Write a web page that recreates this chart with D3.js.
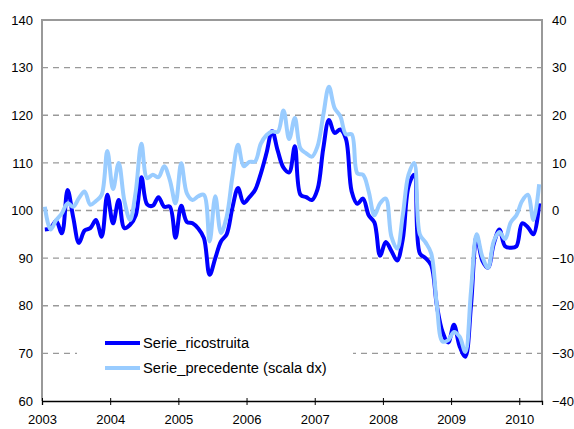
<!DOCTYPE html>
<html lang="it">
  <head>
    <meta charset="UTF-8" />
    <title>Serie ricostruita</title>
    <script src="https://cdn.jsdelivr.net/npm/d3@7"></script>
    <style>
      body { margin: 0; background: #fff; }
      text { font-family: "Liberation Sans", Arial, sans-serif; }
    </style>
  </head>
  <body>
    <script>
      // year labels, one tick every 12 months (Jan 2003 .. Apr 2010)
      let years = ["2003", "2004", "2005", "2006", "2007", "2008", "2009", "2010"];

      // left axis
      let serieRicostruita = [
        96, 96.3, 97.8, 95.2, 104.3, 98.5, 93.2, 95.8, 96.3, 98, 94.5, 103.3,
        97.3, 102.2, 96.3, 97, 99, 107, 101.3, 101, 102.8, 100.8, 100.8, 94.3,
        101, 97.6, 97.3, 96.2, 94.2, 86.5, 90, 93.5, 95, 100.5, 104.7, 101.6,
        102.8, 104.3, 107.7, 112, 116.7, 112.5, 109, 108, 113.5, 103.3, 102.8, 102.2,
        104.5, 113, 119, 116.3, 117, 115, 104, 101.4, 102.5, 99, 97.5, 90.5,
        93.4, 91.5, 89.5, 94, 105, 107.5, 91, 90, 88.5, 80, 74.5, 72.3,
        76, 71.5, 69.3, 80, 94.5, 89.5, 88, 93, 96, 92.5, 92.2, 92.5,
        97.3, 96.5, 95, 101.5
      ];
      // right axis (scala dx)
      let seriePrecedente = [
        0.8, -4, -2, -0.6, 1.5, 0.8, 2.6, 4, 1.2, 2, 3.3, 12.5,
        4.5, 10, 2, -2, 4, 14, 6.8, 7.5, 7, 9.3, 6.4, 1.5,
        9.9, 3.6, 2.2, 3, 3.3, -6.5, 3, -4.7, -1.3, 7, 13.8, 9.3,
        10.2, 10.3, 14, 15.8, 16.6, 16.5, 21, 15, 19.4, 13, 12, 11.3,
        13.5, 20, 26, 21.5, 19.8, 16, 16, 7.8, 7.5, 4, -1, 1.5,
        2.5, -5.5, -8, -1, 7.5, 10, -5, -6.7, -9, -20, -27.5, -27.2,
        -25.5, -26.5, -29.7, -17, -5, -9.7, -12, -6.5, -4.5, -6, -2.5, -1,
        2, 3.3, -2, 5.5
      ];
      let leftTicks = [60, 70, 80, 90, 100, 110, 120, 130, 140];
      let rightTicks = [-40, -30, -20, -10, 0, 10, 20, 30, 40];
      let legendLabels = ["Serie_ricostruita", "Serie_precedente (scala dx)"];

      let width = 574, height = 429;
      let mLeft = 42, mRight = 542, mTop = 20, mBottom = 401;

      let svg = d3.select("body").append("svg")
        .attr("width", width)
        .attr("height", height);

      let x = d3.scaleLinear().domain([0, serieRicostruita.length]).range([mLeft, mRight]);
      let yL = d3.scaleLinear().domain([60, 140]).range([mBottom, mTop]);
      let yR = d3.scaleLinear().domain([-40, 40]).range([mBottom, mTop]);

      // dashed grid
      svg.append("g")
        .selectAll("line")
        .data(leftTicks.slice(1, -1))
        .enter()
        .append("line")
        .attr("x1", mLeft)
        .attr("x2", mRight)
        .attr("y1", d => yL(d))
        .attr("y2", d => yL(d))
        .attr("stroke", "#999")
        .attr("stroke-width", 1.3)
        .attr("stroke-dasharray", "6,5");

      // frame (left, top, right)
      svg.append("path")
        .attr("d", `M${mLeft},${mBottom}V${mTop}H${mRight}V${mBottom}`)
        .attr("fill", "none")
        .attr("stroke", "#999")
        .attr("stroke-width", 2);

      // left axis labels
      let axL = svg.append("g")
        .attr("transform", `translate(${mLeft},0)`)
        .call(d3.axisLeft(yL).tickValues(leftTicks).tickSize(0).tickPadding(9));
      axL.select(".domain").remove();

      let axR = svg.append("g")
        .attr("transform", `translate(${mRight},0)`)
        .call(d3.axisRight(yR).tickValues(rightTicks).tickSize(0).tickPadding(10));
      axR.select(".domain").remove();

      // bottom axis
      let axB = svg.append("g")
        .attr("transform", `translate(0,${mBottom})`)
        .call(d3.axisBottom(x)
          .tickValues(years.map((d, i) => i * 12))
          .tickFormat((d, i) => years[i])
          .tickSize(4)
          .tickPadding(10));
      axB.select(".domain").attr("stroke", "#000").attr("stroke-width", 1.3);
      axB.selectAll(".tick line").attr("stroke", "#000").attr("y1", -3);

      svg.selectAll(".tick text")
        .attr("font-size", 13)
        .attr("fill", "#000");

      let lineL = d3.line()
        .x((d, i) => x(i + 0.5))
        .y(d => yL(d))
        .curve(d3.curveCatmullRom.alpha(0.5));
      let lineR = d3.line()
        .x((d, i) => x(i + 0.5))
        .y(d => yR(d))
        .curve(d3.curveCatmullRom.alpha(0.5));

      svg.append("path")
        .datum(serieRicostruita)
        .attr("d", lineL)
        .attr("fill", "none")
        .attr("stroke", "#0000ff")
        .attr("stroke-width", 4)
        .attr("stroke-linejoin", "round");

      svg.append("path")
        .datum(seriePrecedente)
        .attr("d", lineR)
        .attr("fill", "none")
        .attr("stroke", "#99ccff")
        .attr("stroke-width", 4)
        .attr("stroke-linejoin", "round");

      // legend
      let legend = svg.append("g");
      legend.append("rect")
        .attr("x", 77)
        .attr("y", 328)
        .attr("width", 276)
        .attr("height", 54)
        .attr("fill", "#fff");
      let colors = ["#0000ff", "#99ccff"];
      legendLabels.forEach((lab, i) => {
        let yy = 343 + i * 25;
        legend.append("line")
          .attr("x1", 105).attr("x2", 140)
          .attr("y1", yy).attr("y2", yy)
          .attr("stroke", colors[i])
          .attr("stroke-width", 4);
        legend.append("text")
          .attr("x", 143)
          .attr("y", yy + 5)
          .attr("font-size", 14.7)
          .text(lab);
      });
    </script>
  </body>
</html>
